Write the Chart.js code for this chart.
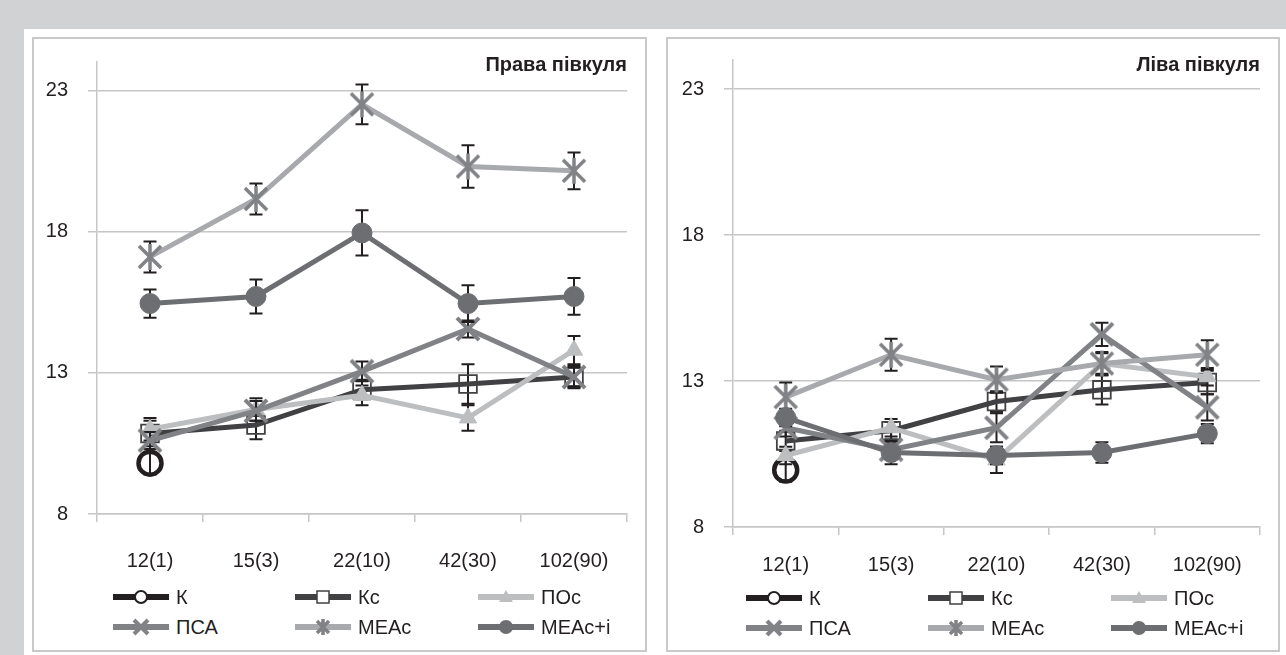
<!DOCTYPE html>
<html><head><meta charset="utf-8">
<script src="https://cdn.jsdelivr.net/npm/chart.js@4/dist/chart.umd.min.js"></script>
<style>
html,body{margin:0;padding:0;background:#fff;}
body{width:1286px;height:655px;position:relative;overflow:hidden;font-family:"Liberation Sans",Arial,sans-serif;color:#231f20;}
#bgTop{position:absolute;left:0;top:0;width:1286px;height:29px;background:#d1d2d4;}
#bgLeft{position:absolute;left:0;top:0;width:24px;height:655px;background:#d1d2d4;}
.panel{position:absolute;border:2px solid #c8c9cb;box-sizing:border-box;}
canvas{position:absolute;}
.title{position:absolute;font-weight:bold;font-size:20px;line-height:24px;text-align:right;white-space:nowrap;}
.leg{position:absolute;height:24px;display:flex;align-items:center;font-size:20px;white-space:nowrap;}
.leg svg{display:block;margin-right:7px;}
</style></head>
<body>
<div id="bgTop"></div><div id="bgLeft"></div>
<div class="panel" style="left:32px;top:37px;width:615px;height:615px;"></div>
<div class="panel" style="left:666px;top:37px;width:614px;height:615px;"></div>
<canvas id="c1" width="612" height="560" style="left:33px;top:38px;"></canvas>
<canvas id="c2" width="612" height="560" style="left:667px;top:38px;"></canvas>
<div class="title" id="t1" style="right:659px;top:52px;">Права півкуля</div>
<div class="title" id="t2" style="right:26px;top:52px;">Ліва півкуля</div>
<div id="legends"></div>
<script>
// ---- data ----
const categories = ['12(1)', '15(3)', '22(10)', '42(30)', '102(90)'];
const seriesNames = ['К', 'Кс', 'ПОс', 'ПСА', 'МЕАс', 'МЕАс+і'];
const yTicks = [8, 13, 18, 23];

// Права півкуля
const R_K      = [9.8, null, null, null, null];
const R_K_err  = [0.4, null, null, null, null];
const R_Kc     = [10.85, 11.15, 12.4, 12.6, 12.85];
const R_Kc_err = [0.45, 0.5, 0.35, 0.7, 0.4];
const R_POc    = [11.0, 11.7, 12.2, 11.4, 13.8];
const R_POc_err= [0.4, 0.4, 0.35, 0.45, 0.5];
const R_PSA    = [10.6, 11.65, 13.05, 14.55, 12.85];
const R_PSA_err= [0.3, 0.35, 0.35, 0.3, 0.35];
const R_MEAc   = [17.1, 19.15, 22.5, 20.3, 20.15];
const R_MEAc_err=[0.55, 0.55, 0.7, 0.75, 0.65];
const R_MEAcI  = [15.45, 15.7, 17.95, 15.45, 15.7];
const R_MEAcI_err=[0.5, 0.6, 0.8, 0.65, 0.65];

// Ліва півкуля
const L_K      = [9.95, null, null, null, null];
const L_K_err  = [0.4, null, null, null, null];
const L_Kc     = [10.95, 11.3, 12.3, 12.7, 12.95];
const L_Kc_err = [0.35, 0.3, 0.35, 0.5, 0.4];
const L_POc    = [10.45, 11.4, 10.3, 13.6, 13.15];
const L_POc_err= [0.3, 0.3, 0.45, 0.35, 0.3];
const L_PSA    = [11.4, 10.65, 11.4, 14.6, 12.1];
const L_PSA_err= [0.3, 0.25, 0.5, 0.4, 0.45];
const L_MEAc   = [12.45, 13.9, 13.05, 13.6, 13.9];
const L_MEAc_err=[0.5, 0.55, 0.45, 0.4, 0.5];
const L_MEAcI  = [11.75, 10.55, 10.45, 10.55, 11.2];
const L_MEAcI_err=[0.3, 0.4, 0.3, 0.35, 0.33];

// ---- styles ----
const lineColors = ['#231f20', '#414042', '#bcbec0', '#808285', '#a7a9ac', '#6d6e71'];

function markerCanvas(type, color, r, lw){
  const S = Math.ceil(2*r + lw + 2);
  const c = document.createElement('canvas');
  c.width = S; c.height = S;
  const g = c.getContext('2d');
  g.strokeStyle = color; g.lineWidth = lw; g.lineCap = 'butt';
  const m = S/2;
  g.beginPath();
  if (type === 'x' || type === 'ast'){
    const d = r*0.85;
    g.moveTo(m-d, m-d); g.lineTo(m+d, m+d);
    g.moveTo(m+d, m-d); g.lineTo(m-d, m+d);
    if (type === 'ast'){ g.moveTo(m, m-r); g.lineTo(m, m+r); }
  }
  g.stroke();
  return c;
}
const xMark = markerCanvas('x', '#808285', 13, 4);
const astMark = markerCanvas('ast', '#808285', 13, 3.5);

function makeDatasets(vals){
  return [
    {label:seriesNames[0], data:vals[0], borderColor:lineColors[0], pointStyle:'circle', pointRadius:11.5, pointBorderWidth:4.5, pointBorderColor:'#231f20', pointBackgroundColor:'rgba(0,0,0,0)', order:5},
    {label:seriesNames[1], data:vals[1], borderColor:lineColors[1], pointStyle:'rect', pointRadius:12.5, pointBorderWidth:1.8, pointBorderColor:'#414042', pointBackgroundColor:'rgba(0,0,0,0)', order:4},
    {label:seriesNames[2], data:vals[2], borderColor:lineColors[2], pointStyle:'triangle', pointRadius:10, pointBorderWidth:1, pointBorderColor:'#bcbec0', pointBackgroundColor:'#bcbec0', order:3},
    {label:seriesNames[3], data:vals[3], borderColor:lineColors[3], pointStyle:xMark, pointRadius:10, order:2},
    {label:seriesNames[4], data:vals[4], borderColor:lineColors[4], pointStyle:astMark, pointRadius:10, order:1},
    {label:seriesNames[5], data:vals[5], borderColor:lineColors[5], pointStyle:'circle', pointRadius:10, pointBorderWidth:1, pointBorderColor:'#6d6e71', pointBackgroundColor:'#6d6e71', order:0}
  ].map(d => Object.assign({borderWidth:5, tension:0, spanGaps:false, pointHoverRadius:d.pointRadius}, d));
}

const errPlugin = {
  id:'errbars',
  beforeDatasetDraw(chart, args){
    const errs = chart.options.plugins.errbars.errors[args.index];
    const vals = chart.data.datasets[args.index].data;
    const ys = chart.scales.y, xs = chart.scales.x;
    const ctx = chart.ctx;
    ctx.save();
    ctx.strokeStyle = '#231f20'; ctx.lineWidth = 2;
    vals.forEach((v, i) => {
      if (v == null || errs[i] == null) return;
      const x = xs.getPixelForValue(i);
      const y1 = ys.getPixelForValue(v + errs[i]);
      const y2 = ys.getPixelForValue(v - errs[i]);
      ctx.beginPath();
      ctx.moveTo(x, y1); ctx.lineTo(x, y2);
      ctx.moveTo(x-6.5, y1); ctx.lineTo(x+6.5, y1);
      ctx.moveTo(x-6.5, y2); ctx.lineTo(x+6.5, y2);
      ctx.stroke();
    });
    ctx.restore();
  }
};

function zeroPad(s){ s.paddingTop = 0; s.paddingBottom = 0; s.paddingLeft = 0; s.paddingRight = 0; }

function makeChart(id, vals, errs, yAxisW, pad, xAxisH, xPad){
  return new Chart(document.getElementById(id), {
    type:'line',
    data:{labels:categories, datasets:makeDatasets(vals)},
    options:{
      responsive:false, animation:false, devicePixelRatio:1, events:[],
      layout:{padding:{left:0, right:pad.right, top:pad.top, bottom:0}},
      plugins:{legend:{display:false}, title:{display:false}, tooltip:{enabled:false}, errbars:{errors:errs}},
      scales:{
        x:{
          type:'category', offset:true,
          grid:{offset:true, drawOnChartArea:false, drawTicks:true, tickLength:8, color:'#c6c6c6', lineWidth:1.5},
          border:{display:true, color:'#c6c6c6', width:1.5},
          ticks:{color:'#231f20', font:{family:'"Liberation Sans", Arial, sans-serif', size:20}, padding:xPad, maxRotation:0, autoSkip:false},
          afterFit(s){ s.height = xAxisH; zeroPad(s); }
        },
        y:{
          min:8, max:24,
          afterBuildTicks(s){ s.ticks = yTicks.map(v => ({value:v})); },
          grid:{color:'#c6c6c6', lineWidth:1.5, tickLength:9, drawTicks:true},
          border:{display:true, color:'#c6c6c6', width:1.5},
          ticks:{color:'#231f20', font:{family:'"Liberation Sans", Arial, sans-serif', size:20}, padding:20},
          afterFit(s){ s.width = yAxisW; zeroPad(s); }
        }
      }
    },
    plugins:[errPlugin]
  });
}

makeChart('c1', [R_K, R_Kc, R_POc, R_PSA, R_MEAc, R_MEAcI], [R_K_err, R_Kc_err, R_POc_err, R_PSA_err, R_MEAc_err, R_MEAcI_err], 64, {right:18, top:24}, 84, 27);
makeChart('c2', [L_K, L_Kc, L_POc, L_PSA, L_MEAc, L_MEAcI], [L_K_err, L_Kc_err, L_POc_err, L_PSA_err, L_MEAc_err, L_MEAcI_err], 66, {right:19, top:22}, 71, 18);

// ---- HTML legends ----
function sampleSVG(i){
  const c = lineColors[i];
  let mk = '';
  if (i === 0) mk = '<circle cx="28" cy="10" r="6" fill="#fff" stroke="#231f20" stroke-width="2"/>';
  if (i === 1) mk = '<rect x="22" y="4" width="12" height="12" fill="#fff" stroke="#414042" stroke-width="1.5"/>';
  if (i === 2) mk = '<polygon points="28,3 35,15 21,15" fill="#bcbec0"/>';
  if (i === 3) mk = '<path d="M21,3 L35,17 M35,3 L21,17" stroke="#808285" stroke-width="4"/>';
  if (i === 4) mk = '<path d="M22,4 L34,16 M34,4 L22,16 M28,2 L28,18" stroke="#808285" stroke-width="3.5"/>';
  if (i === 5) mk = '<circle cx="28" cy="10" r="7" fill="#6d6e71"/>';
  return '<svg width="56" height="20" viewBox="0 0 56 20"><line x1="0" y1="10" x2="56" y2="10" stroke="'+c+'" stroke-width="6" stroke-linecap="round"/>'+mk+'</svg>';
}
const legendCols = [[113, 295, 478], [746, 928, 1111]];
const legendRows = [[585, 615], [586, 616]];
let html = '';
for (let p = 0; p < 2; p++){
  for (let i = 0; i < 6; i++){
    const col = i % 3, row = Math.floor(i / 3);
    html += '<div class="leg" style="left:'+legendCols[p][col]+'px;top:'+legendRows[p][row]+'px;">'+sampleSVG(i)+'<span>'+seriesNames[i]+'</span></div>';
  }
}
document.getElementById('legends').innerHTML = html;
</script>
</body></html>
